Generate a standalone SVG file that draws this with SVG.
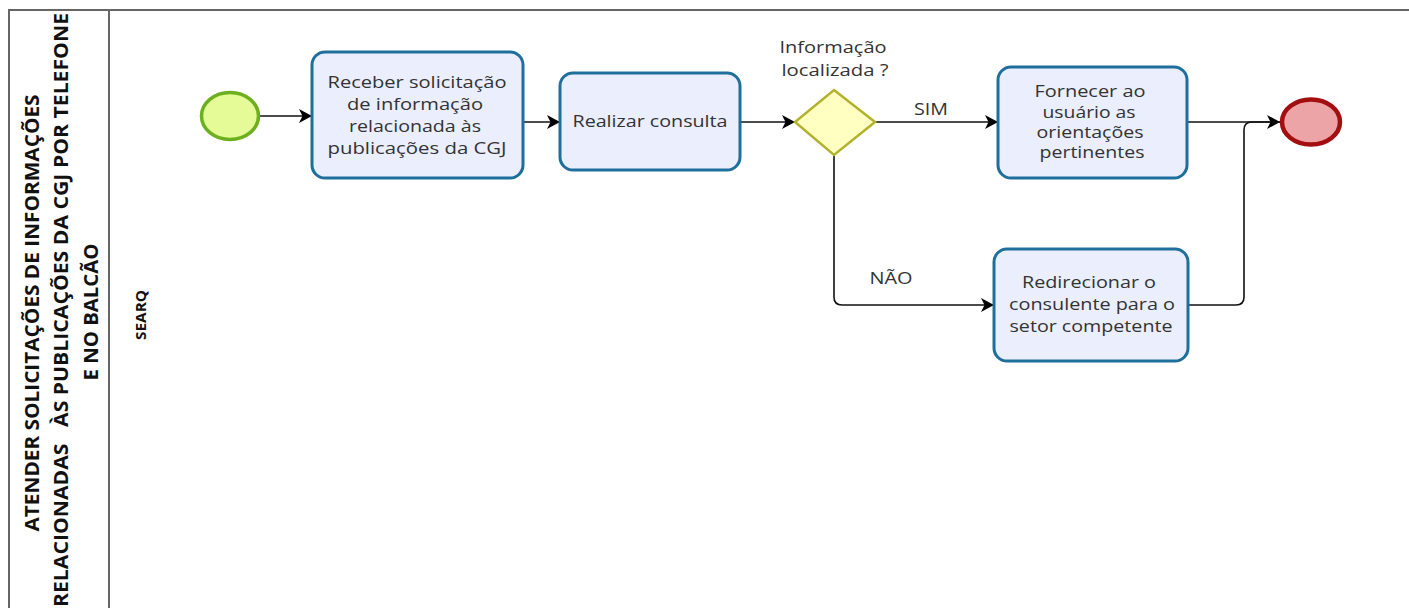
<svg xmlns="http://www.w3.org/2000/svg" width="1409" height="608" viewBox="0 0 1409 608">
<style>
.task{fill:#eaeefd;stroke:#1f6f9c;stroke-width:3}
.lbl{font-family:"Open Sans","DejaVu Sans",sans-serif;font-size:16px;fill:#333;text-anchor:middle}
.ttl{font-family:"Open Sans","DejaVu Sans",sans-serif;font-weight:bold;font-size:19px;fill:#111;text-anchor:middle}
.conn{fill:none;stroke:#111;stroke-width:1.6}
.frame{fill:none;stroke:#666;stroke-width:2}
</style>
<defs>
<marker id="arr" markerUnits="userSpaceOnUse" markerWidth="16" markerHeight="16" refX="13" refY="7" orient="auto">
<path d="M0,0 L13,7 L0,14 L3.5,7 z" fill="#000"/>
</marker>
</defs>
<g id="pool">
<path class="frame" d="M9,610 V10 H1409"/>
<line class="frame" x1="109" y1="10" x2="109" y2="610"/>
<text class="ttl" transform="translate(39,313) rotate(-90)" textLength="437" lengthAdjust="spacingAndGlyphs">ATENDER SOLICITAÇÕES DE INFORMAÇÕES</text>
<text class="ttl" transform="translate(68,310) rotate(-90)" textLength="594" lengthAdjust="spacingAndGlyphs" xml:space="preserve">RELACIONADAS   ÀS PUBLICAÇÕES DA CGJ POR TELEFONE</text>
<text class="ttl" transform="translate(98,312) rotate(-90)" textLength="137" lengthAdjust="spacingAndGlyphs">E NO BALCÃO</text>
</g>
<g id="lane">
<text class="ttl" style="font-size:14px" transform="translate(146,315) rotate(-90)" textLength="50" lengthAdjust="spacingAndGlyphs">SEARQ</text>
</g>
<g id="connectors">
<path class="conn" d="M260,116 H312" marker-end="url(#arr)"/>
<path class="conn" d="M523,122 H560" marker-end="url(#arr)"/>
<path class="conn" d="M740,122 H795" marker-end="url(#arr)"/>
<path class="conn" d="M875,122 H998" marker-end="url(#arr)"/>
<path class="conn" d="M1187,122 H1280" marker-end="url(#arr)"/>
<path class="conn" d="M834,155 V297 Q834,305 842,305 H994" marker-end="url(#arr)"/>
<path class="conn" d="M1189,305 H1236 Q1244,305 1244,297 V130 Q1244,122 1252,122 H1280"/>
<text class="lbl" x="931" y="115" textLength="34" lengthAdjust="spacingAndGlyphs">SIM</text>
<text class="lbl" x="891" y="284" textLength="43" lengthAdjust="spacingAndGlyphs">NÃO</text>
</g>
<g id="start">
<ellipse cx="230" cy="116" rx="28.5" ry="23.5" fill="#e5fb98" stroke="#6db01f" stroke-width="3.5"/>
</g>
<g id="task1">
<rect class="task" x="312" y="52" width="211" height="126" rx="13"/>
<text class="lbl" x="417" y="88" textLength="179" lengthAdjust="spacingAndGlyphs">Receber solicitação</text>
<text class="lbl" x="415" y="110" textLength="136" lengthAdjust="spacingAndGlyphs">de informação</text>
<text class="lbl" x="415" y="132" textLength="132" lengthAdjust="spacingAndGlyphs">relacionada às</text>
<text class="lbl" x="417" y="154" textLength="179" lengthAdjust="spacingAndGlyphs">publicações da CGJ</text>
</g>
<g id="task2">
<rect class="task" x="560" y="73" width="180" height="97" rx="13"/>
<text class="lbl" x="650" y="127" textLength="155" lengthAdjust="spacingAndGlyphs">Realizar consulta</text>
</g>
<g id="gateway">
<polygon points="834,90 875,122 834,155 795,122" fill="#ffffc2" stroke="#b3b22c" stroke-width="2.5"/>
<text class="lbl" x="833" y="53" textLength="107" lengthAdjust="spacingAndGlyphs">Informação</text>
<text class="lbl" x="835" y="76" textLength="107" lengthAdjust="spacingAndGlyphs">localizada ?</text>
</g>
<g id="task3">
<rect class="task" x="998" y="67" width="189" height="111" rx="13"/>
<text class="lbl" x="1090" y="97" textLength="111" lengthAdjust="spacingAndGlyphs">Fornecer ao</text>
<text class="lbl" x="1089" y="118" textLength="93" lengthAdjust="spacingAndGlyphs">usuário as</text>
<text class="lbl" x="1090" y="138" textLength="107" lengthAdjust="spacingAndGlyphs">orientações</text>
<text class="lbl" x="1092" y="158" textLength="105" lengthAdjust="spacingAndGlyphs">pertinentes</text>
</g>
<g id="task4">
<rect class="task" x="994" y="249" width="194" height="112" rx="13"/>
<text class="lbl" x="1089" y="288" textLength="134" lengthAdjust="spacingAndGlyphs">Redirecionar o</text>
<text class="lbl" x="1092" y="310" textLength="166" lengthAdjust="spacingAndGlyphs">consulente para o</text>
<text class="lbl" x="1091" y="332" textLength="163" lengthAdjust="spacingAndGlyphs">setor competente</text>
</g>
<g id="end">
<ellipse cx="1311" cy="122" rx="29" ry="22.5" fill="#eca4a7" stroke="#a30f10" stroke-width="4.5"/>
</g>
</svg>
